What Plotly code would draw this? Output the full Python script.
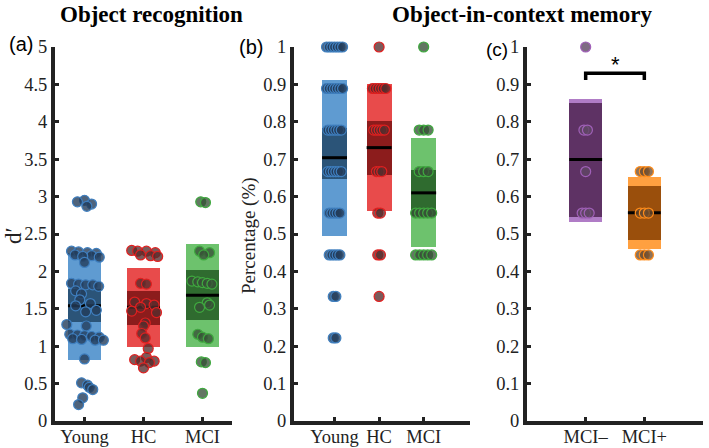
import plotly.graph_objects as go

W, H = 709, 448

# ---------------- data ----------------
# Panel (a): Object recognition d'
groups_a = ["Young", "HC", "MCI"]
young_a = [2.95, 2.93, 2.90, 2.87,
           2.27, 2.26, 2.25, 2.24, 2.22, 2.21, 2.20, 2.19,
           2.12,
           1.84, 1.83, 1.82, 1.82, 1.80,
           1.74, 1.70,
           1.62, 1.57, 1.54, 1.48, 1.46,
           1.29, 1.27,
           1.16, 1.15, 1.14, 1.13, 1.12, 1.10, 1.09, 1.08, 1.08,
           0.83,
           0.51, 0.48, 0.45, 0.42, 0.31, 0.22]
young_a_jit = [0.0, -0.12, 0.12, 0.04,
               -0.22, -0.10, 0.05, 0.20, -0.16, 0.12, -0.03, 0.25,
               0.0,
               -0.22, -0.10, 0.02, 0.14, 0.24,
               -0.15, -0.05,
               -0.08, 0.10, -0.15, 0.20, 0.02,
               -0.30, 0.03,
               -0.25, -0.12, 0.0, 0.12, 0.25, -0.20, -0.05, 0.18, 0.32,
               0.0,
               -0.05, 0.05, 0.08, 0.14, -0.03, -0.10]
hc_a = [2.28, 2.27, 2.27, 2.25, 2.22, 2.21, 2.20,
        1.84, 1.83,
        1.59, 1.57, 1.55, 1.52, 1.47, 1.45,
        1.31, 1.27, 1.17, 1.11, 0.97,
        0.85, 0.82, 0.80, 0.80, 0.78, 0.71]
hc_a_jit = [-0.20, -0.10, 0.05, 0.20, -0.05, 0.12, 0.24,
            -0.05, 0.05,
            -0.15, 0.05, 0.18, -0.05, -0.20, 0.22,
            0.03, 0.0, -0.03, 0.03, 0.08,
            0.05, -0.15, 0.18, -0.05, 0.10, 0.0]
mci_a = [2.93, 2.92,
         2.27, 2.25, 2.22,
         1.87, 1.86, 1.85, 1.84, 1.83,
         1.58, 1.55, 1.52,
         1.16, 1.12, 1.10,
         0.79, 0.78, 0.37]
mci_a_jit = [-0.03, 0.05,
             -0.05, 0.12, 0.02,
             -0.18, -0.08, 0.0, 0.08, 0.16,
             0.08, 0.12, -0.05,
             -0.08, 0.0, 0.10,
             -0.02, 0.05, 0.0]
# box statistics: [low, high] of light (SD) and dark (SEM) boxes, and mean
sd_lo_a = [0.82, 0.985, 0.99]
sd_hi_a = [2.25, 2.045, 2.37]
se_lo_a = [1.32, 1.29, 1.35]
se_hi_a = [1.76, 1.74, 2.02]
mean_a = [1.54, 1.52, 1.68]

# Panel (b): Object-in-context memory (%)
groups_b = ["Young", "HC", "MCI"]
young_b = [1.0, 1.0, 1.0, 1.0, 1.0, 1.0, 1.0,
           0.889, 0.889, 0.889, 0.889, 0.889, 0.889, 0.889,
           0.778, 0.778, 0.778, 0.778, 0.778, 0.778,
           0.667, 0.667, 0.667, 0.667, 0.667, 0.667,
           0.556, 0.556, 0.556, 0.556, 0.556,
           0.444, 0.444, 0.444, 0.444, 0.444,
           0.333, 0.333, 0.222, 0.222]
hc_b = [1.0,
        0.889, 0.889, 0.889, 0.889, 0.889, 0.889,
        0.778, 0.778, 0.778, 0.778, 0.778,
        0.667, 0.667, 0.667,
        0.556, 0.556,
        0.444, 0.444,
        0.333]
mci_b = [1.0,
         0.778, 0.778, 0.778,
         0.667, 0.667, 0.667,
         0.556, 0.556, 0.556, 0.556, 0.556,
         0.444, 0.444, 0.444, 0.444, 0.444]
sd_lo_b = [0.494, 0.561, 0.464]
sd_hi_b = [0.912, 0.901, 0.756]
se_lo_b = [0.647, 0.658, 0.548]
se_hi_b = [0.784, 0.803, 0.671]
mean_b = [0.704, 0.731, 0.61]

# Panel (c): MCI- vs MCI+
groups_c = ["MCI\u2013", "MCI+"]
mcin_c = [1.0, 0.778, 0.778, 0.667, 0.556, 0.556, 0.556]
mcip_c = [0.667, 0.667, 0.667, 0.556, 0.556, 0.556, 0.444, 0.444, 0.444]
sd_lo_c = [0.532, 0.460]
sd_hi_c = [0.862, 0.652]
se_lo_c = [0.545, 0.483]
se_hi_c = [0.851, 0.628]
mean_c = [0.699, 0.557]

yticks_a = [0, 0.5, 1, 1.5, 2, 2.5, 3, 3.5, 4, 4.5, 5]
yticks_a_text = ["0", "0.5", "1", "1.5", "2", "2.5", "3", "3.5", "4", "4.5", "5"]
yticks_bc = [0, 0.1, 0.2, 0.3, 0.4, 0.5, 0.6, 0.7, 0.8, 0.9, 1]
yticks_bc_text = ["0", "0.1", "0.2", "0.3", "0.4", "0.5", "0.6", "0.7", "0.8", "0.9", "1"]

# ---------------- styles ----------------
light = {"Young": "#5f9bd1", "HC": "#e84b4b", "MCI": "#6dc26d",
         "MCI-": "#b07cc6", "MCI+": "#ffa040"}
dark = {"Young": "#2b5478", "HC": "#8c1c1c", "MCI": "#2f6b2f",
        "MCI-": "#5e3264", "MCI+": "#9a4f0c"}
fill = {"Young": "rgba(35,60,90,0.80)", "HC": "rgba(85,45,45,0.78)",
        "MCI": "rgba(55,80,55,0.78)", "MCI-": "rgba(95,70,100,0.80)",
        "MCI+": "rgba(110,75,45,0.78)"}
edge = {"Young": "#3f7fbf", "HC": "#e02020", "MCI": "#3faa3f",
        "MCI-": "#a060b8", "MCI+": "#ff8c1a"}
HALF = 0.28
INK = "#222222"
SERIF = "Liberation Serif, Times New Roman, serif"
SANS = "Liberation Sans, Arial, sans-serif"

fig = go.Figure()


def row_offsets(vals, step_max, span):
    """spread equal values side by side (layout only)"""
    offs = [0.0] * len(vals)
    seen = {}
    for i, v in enumerate(vals):
        seen.setdefault(v, []).append(i)
    for v, idx in seen.items():
        n = len(idx)
        if n == 1:
            continue
        step = min(step_max, span / (n - 1))
        for k, i in enumerate(idx):
            offs[i] = (k - (n - 1) / 2) * step
    return offs


def panel(xa, ya, keys, sd_lo, sd_hi, se_lo, se_hi, means, pts, jits):
    pos = list(range(1, len(keys) + 1))
    fig.add_trace(go.Bar(x=pos, y=[h - l for l, h in zip(sd_lo, sd_hi)], base=sd_lo,
                         width=2 * HALF, marker=dict(color=[light[k] for k in keys], line_width=0),
                         xaxis=xa, yaxis=ya, showlegend=False, hoverinfo="skip"))
    fig.add_trace(go.Bar(x=pos, y=[h - l for l, h in zip(se_lo, se_hi)], base=se_lo,
                         width=2 * HALF, marker=dict(color=[dark[k] for k in keys], line_width=0),
                         xaxis=xa, yaxis=ya, showlegend=False, hoverinfo="skip"))
    mx, my = [], []
    for p, m in zip(pos, means):
        mx += [p - HALF, p + HALF, None]
        my += [m, m, None]
    fig.add_trace(go.Scatter(x=mx, y=my, mode="lines", line=dict(color="black", width=3),
                             xaxis=xa, yaxis=ya, showlegend=False, hoverinfo="skip"))
    for p, k, vals, jit in zip(pos, keys, pts, jits):
        fig.add_trace(go.Scatter(x=[p + j for j in jit], y=vals, mode="markers",
                                 marker=dict(size=10, color=fill[k], line=dict(color=edge[k], width=1.2)),
                                 xaxis=xa, yaxis=ya, showlegend=False, cliponaxis=False))


panel("x", "y", ["Young", "HC", "MCI"], sd_lo_a, sd_hi_a, se_lo_a, se_hi_a, mean_a,
      [young_a, hc_a, mci_a], [young_a_jit, hc_a_jit, mci_a_jit])
panel("x2", "y2", ["Young", "HC", "MCI"], sd_lo_b, sd_hi_b, se_lo_b, se_hi_b, mean_b,
      [young_b, hc_b, mci_b],
      [row_offsets(young_b, 0.06, 0.36), row_offsets(hc_b, 0.06, 0.30), row_offsets(mci_b, 0.10, 0.36)])
panel("x3", "y3", ["MCI-", "MCI+"], sd_lo_c, sd_hi_c, se_lo_c, se_hi_c, mean_c,
      [mcin_c, mcip_c],
      [row_offsets(mcin_c, 0.06, 0.2), row_offsets(mcip_c, 0.07, 0.2)])


def px(x):
    return x / W


def py(y):
    return 1 - y / H


ydom = [py(421), py(47)]
axis_common = dict(showgrid=False, zeroline=False, showline=True, linewidth=4, linecolor=INK,
                   ticks="inside", ticklen=4, tickwidth=3, tickcolor=INK, automargin=False,
                   tickfont=dict(family=SERIF, size=18.5, color=INK), fixedrange=True)
xtick_extra = dict(ticklabelstandoff=-4)

fig.update_layout(
    width=W, height=H, margin=dict(l=0, r=0, t=0, b=0, autoexpand=False),
    paper_bgcolor="white", plot_bgcolor="white", barmode="overlay", bargap=0,
    showlegend=False,
    xaxis=dict(domain=[px(55), px(232)], range=[0.5, 3.5], tickvals=[1, 2, 3], ticktext=groups_a,
               anchor="y", **axis_common, **xtick_extra),
    yaxis=dict(domain=ydom, range=[0, 5], tickvals=yticks_a, ticktext=yticks_a_text,
               anchor="x", **axis_common),
    xaxis2=dict(domain=[px(294), px(470)], range=[0.09, 4.04], tickvals=[1, 2, 3], ticktext=groups_b,
                anchor="y2", **axis_common, **xtick_extra),
    yaxis2=dict(domain=ydom, range=[0, 1], tickvals=yticks_bc, ticktext=yticks_bc_text,
                anchor="x2", **axis_common),
    xaxis3=dict(domain=[px(527), px(703)], range=[0, 3], tickvals=[1, 2], ticktext=groups_c,
                anchor="y3", **axis_common, **xtick_extra),
    yaxis3=dict(domain=ydom, range=[0, 1], tickvals=yticks_bc, ticktext=yticks_bc_text,
                anchor="x3", **axis_common),
)

ann = [
    dict(text="<b>Object recognition</b>", x=px(151), y=py(14), font=dict(family=SERIF, size=23, color="black")),
    dict(text="<b>Object-in-context memory</b>", x=px(522), y=py(14), font=dict(family=SERIF, size=23, color="black")),
    dict(text="(a)", x=px(21), y=py(44), font=dict(family=SANS, size=20, color="black")),
    dict(text="(b)", x=px(251), y=py(47), font=dict(family=SANS, size=20, color="black")),
    dict(text="(c)", x=px(497), y=py(49), font=dict(family=SANS, size=19, color="black")),
    dict(text="d\u2032", x=px(13), y=py(236), textangle=-90, font=dict(family=SERIF, size=23, color=INK)),
    dict(text="Percentage (%)", x=px(249), y=py(236), textangle=-90, font=dict(family=SERIF, size=19, color=INK)),
]
for a in ann:
    fig.add_annotation(xref="paper", yref="paper", showarrow=False, xanchor="center", yanchor="middle", **a)

# significance bracket in panel (c)
fig.add_shape(type="path", xref="x3", yref="y3", path="M 1,0.912 L 1,0.93 L 2,0.93 L 2,0.912",
              line=dict(color="black", width=3.5))
fig.add_annotation(xref="x3", yref="y3", x=1.5, y=0.953, text="*", showarrow=False,
                   font=dict(family=SANS, size=22, color="black"))

fig.write_html("out.html", config={"displayModeBar": False, "staticPlot": True},
               post_script="document.body.style.margin='0';document.body.style.overflow='hidden';")
